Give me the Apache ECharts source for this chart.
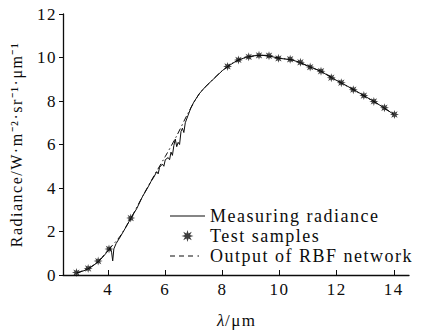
<!DOCTYPE html>
<html>
<head>
<meta charset="utf-8">
<script src="https://cdn.jsdelivr.net/npm/echarts@6/dist/echarts.min.js"></script>
<style>
  html, body {
    margin: 0;
    padding: 0;
    background: #fff;
  }
  #chart {
    width: 421px;
    height: 334px;
  }
  /* the printed figure uses spaced-out serif lettering */
  #chart text {
    letter-spacing: 1.5px;
  }
</style>
</head>
<body>
<div id="chart"></div>
<script>
// measured spectrum (wavelength µm, radiance)
const measuredX = [2.9, 3.0, 3.2, 3.4, 3.6, 3.8, 4.0, 4.08, 4.12, 4.16, 4.2, 4.28, 4.4, 4.6, 4.8, 5.0, 5.2, 5.4, 5.5, 5.6,
  5.7, 5.75, 5.8, 5.9, 5.95, 6.0, 6.1, 6.15, 6.2, 6.25, 6.3, 6.35, 6.4, 6.45, 6.5, 6.55, 6.6, 6.65, 6.7, 6.8,
  6.9, 7.0, 7.2, 7.4, 7.6, 7.8, 8.0, 8.2, 8.5, 8.8, 9.1, 9.4, 9.7, 10.0, 10.4, 10.7, 11.1, 11.45, 11.8, 12.15,
  12.6, 12.95, 13.3, 13.65, 14.0]
const measuredY = [0.10, 0.13, 0.22, 0.36, 0.55, 0.80, 1.12, 1.22, 1.05, 0.65, 1.20, 1.45, 1.70, 2.15, 2.62, 3.05, 3.60, 4.05, 4.30, 4.50,
  4.75, 4.65, 4.95, 5.10, 5.00, 5.30, 5.40, 5.30, 5.65, 5.50, 5.95, 6.25, 5.90, 6.10, 6.00, 6.60, 6.75, 6.55, 7.00, 7.35,
  7.70, 7.95, 8.35, 8.65, 8.90, 9.15, 9.40, 9.60, 9.85, 10.00, 10.08, 10.10, 10.05, 9.96, 9.90, 9.78, 9.55, 9.37, 9.08, 8.84,
  8.52, 8.25, 7.98, 7.69, 7.38]

// test samples
const sampleX = [2.89, 3.3, 3.65, 4.03, 4.79, 8.18, 8.56, 8.92, 9.28, 9.63, 9.96, 10.37, 10.73, 11.07, 11.45, 11.81, 12.16,
  12.58, 12.95, 13.3, 13.67, 14.02]
const sampleY = [0.11, 0.30, 0.64, 1.20, 2.62, 9.59, 9.89, 10.03, 10.10, 10.08, 9.96, 9.92, 9.78, 9.56, 9.37, 9.07, 8.84,
  8.52, 8.25, 7.98, 7.69, 7.38]

// RBF network output
const rbfX = [2.9, 3.3, 3.65, 4.0, 4.4, 4.8, 5.2, 5.6, 6.0, 6.4, 6.8, 7.2, 7.6, 8.0, 8.5, 9.0, 9.5, 10.0, 10.5, 11.0,
  11.5, 12.0, 12.5, 13.0, 13.5, 14.0]
const rbfY = [0.10, 0.30, 0.62, 1.15, 1.75, 2.62, 3.60, 4.55, 5.45, 6.40, 7.45, 8.35, 8.90, 9.40, 9.85, 10.05, 10.10, 9.97, 9.87, 9.60,
  9.33, 8.95, 8.58, 8.20, 7.82, 7.38]

const xTicks = [4, 6, 8, 10, 12, 14]
const legendNames = ["Measuring radiance", "Test samples", "Output of RBF network"]

const font = "Liberation Serif"
const ink = "#0c0c0c"
const star = "path://M10,0 L4.2,1.7 L7.07,7.07 L1.7,4.2 L0,10 L-1.7,4.2 L-7.07,7.07 L-4.2,1.7 L-10,0 L-4.2,-1.7 L-7.07,-7.07 L-1.7,-4.2 L0,-10 L1.7,-4.2 L7.07,-7.07 L4.2,-1.7 Z"
// legend glyphs in a 35x12 box (tiny corner specks pin the box size)
const box = "M0,0 L0.01,0 L0,0.01 Z M35,12 L34.99,12 L35,11.99 Z "
const solidIcon = "path://" + box + "M0,5.5 L35,5.5 L35,6.6 L0,6.6 Z"
const dashDotIcon = "path://" + box +
  "M0,5.5 L5,5.5 L5,6.6 L0,6.6 Z M9,5.5 L14,5.5 L14,6.6 L9,6.6 Z M18,5.5 L23,5.5 L23,6.6 L18,6.6 Z M27.5,5.5 L29,5.5 L29,6.6 L27.5,6.6 Z"

function pairs(xs, ys) {
  return xs.map((x, i) => [x, ys[i]])
}

function buildOption() {
  return {
    animation: false,
    grid: {
      left: 63,
      right: 12,
      top: 14,
      bottom: 51.5,
    },
    legend: {
      orient: "vertical",
      left: 165,
      top: 202,
      padding: 5,
      itemWidth: 35,
      itemHeight: 12,
      itemGap: 2,
      data: [
        {name: legendNames[0], icon: solidIcon, itemStyle: {color: ink, borderWidth: 0}},
        {name: legendNames[1]},
        {name: legendNames[2], icon: dashDotIcon, itemStyle: {color: ink, borderWidth: 0}},
      ],
      textStyle: {
        fontFamily: font,
        fontSize: 18,
        color: ink,
        lineHeight: 18,
      },
    },
    xAxis: {
      type: "value",
      min: 2.42,
      max: 14.53,
      name: "{i|λ}/μm",
      nameLocation: "middle",
      nameGap: 37,
      nameTextStyle: {
        fontFamily: font,
        fontSize: 17,
        color: ink,
        rich: {
          i: {fontFamily: font, fontSize: 17, fontStyle: "italic", color: ink, padding: [0, 2, 0, 0]},
        },
      },
      axisLine: {onZero: false, lineStyle: {color: ink, width: 1.3}},
      axisTick: {inside: true, length: 5, customValues: xTicks, lineStyle: {color: ink}},
      axisLabel: {
        customValues: xTicks,
        margin: 6,
        fontFamily: font,
        fontSize: 17,
        color: ink,
      },
      splitLine: {show: false},
    },
    yAxis: {
      type: "value",
      min: 0,
      max: 12,
      interval: 2,
      name: "Radiance/W·m⁻²·sr⁻¹·μm⁻¹",
      nameLocation: "middle",
      nameRotate: 90,
      nameGap: 39,
      nameTextStyle: {
        fontFamily: font,
        fontSize: 16,
        color: ink,
      },
      axisLine: {show: true, lineStyle: {color: ink, width: 1.3}},
      axisTick: {show: true, length: 4, lineStyle: {color: ink}},
      axisLabel: {
        margin: 6,
        fontFamily: font,
        fontSize: 17,
        color: ink,
      },
      splitLine: {show: false},
    },
    series: [
      {
        name: legendNames[0],
        type: "line",
        data: pairs(measuredX, measuredY),
        symbol: "none",
        itemStyle: {color: ink},
        lineStyle: {color: ink, width: 1},
        z: 3,
      },
      {
        name: legendNames[1],
        type: "scatter",
        data: pairs(sampleX, sampleY),
        symbol: star,
        symbolSize: 9,
        itemStyle: {color: ink},
        z: 4,
      },
      {
        name: legendNames[2],
        type: "line",
        data: pairs(rbfX, rbfY),
        symbol: "none",
        smooth: 0.3,
        itemStyle: {color: ink},
        lineStyle: {color: ink, width: 1, type: [6, 3, 1.5, 3]},
        z: 2,
      },
    ],
  }
}

const myChart = echarts.init(document.getElementById("chart"), null, {renderer: "svg"})
myChart.setOption(buildOption())
</script>
</body>
</html>
